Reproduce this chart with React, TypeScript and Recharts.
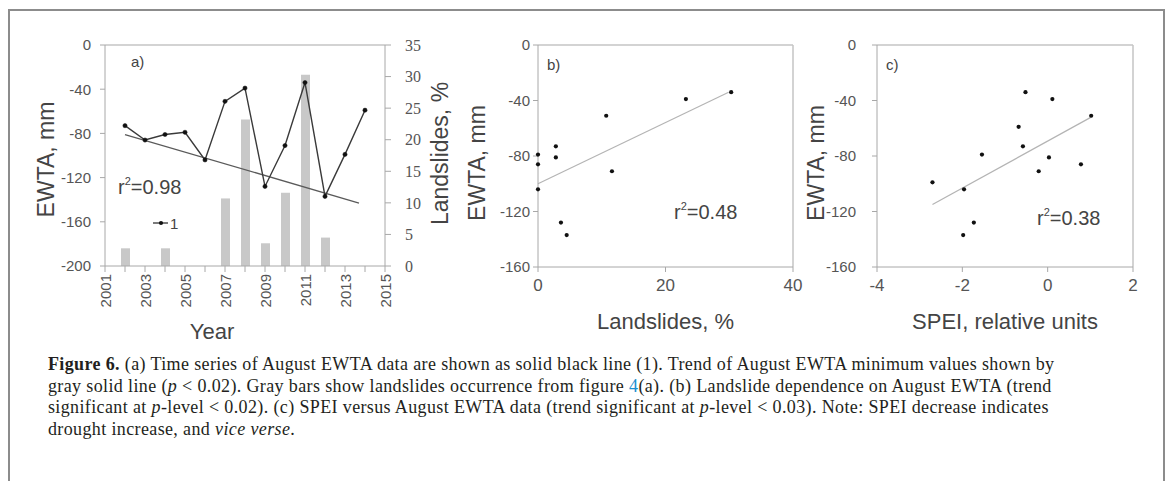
import React from "react";
import {
  Bar,
  ComposedChart,
  Label,
  Line,
  ReferenceLine,
  Scatter,
  ScatterChart,
  XAxis,
  YAxis,
} from "recharts";

// August EWTA, landslides and SPEI by year
const YEARS = [2002, 2003, 2004, 2005, 2006, 2007, 2008, 2009, 2010, 2011, 2012, 2013, 2014];
const EWTA = [-73, -86, -81, -79, -104, -51, -39, -128, -91, -34, -137, -99, -59];
const LANDSLIDES = [2.8, 0, 2.8, 0, 0, 10.7, 23.2, 3.6, 11.6, 30.3, 4.5, null, null];
const SPEI = [-0.58, 0.78, 0.03, -1.54, -1.96, 1.02, 0.11, -1.73, -0.21, -0.52, -1.98, -2.7, -0.68];

const YEAR_TICKS = [2001, 2002, 2003, 2004, 2005, 2006, 2007, 2008, 2009, 2010, 2011, 2012, 2013, 2014, 2015];
const EWTA_TICKS_A = [-200, -160, -120, -80, -40, 0];
const LANDSLIDE_TICKS_A = [0, 5, 10, 15, 20, 25, 30, 35];
const EWTA_TICKS_BC = [-160, -120, -80, -40, 0];
const PCT_TICKS = [0, 20, 40];
const SPEI_TICKS = [-4, -2, 0, 2];

// trend line end points
const TREND_A = [{ x: 2002, y: -81 }, { x: 2013.7, y: -143 }];
const TREND_B = [{ x: 0, y: -100 }, { x: 29.9, y: -34 }];
const TREND_C = [{ x: -2.7, y: -115 }, { x: 1.02, y: -52 }];

const seriesA = YEARS.map((year, i) => ({ year, ewta: EWTA[i], landslides: LANDSLIDES[i] }));
const pointsB = YEARS.map((_, i) => ({ x: LANDSLIDES[i], y: EWTA[i] })).filter((p) => p.x !== null);
const pointsC = YEARS.map((_, i) => ({ x: SPEI[i], y: EWTA[i] }));

const SANS = '"Liberation Sans", Arial, sans-serif';
const SERIF = '"Liberation Serif", "Times New Roman", serif';
const AXIS = "#a8a8a8";
const FRAME = "#c4c4c4";
const TICK_TEXT = "#555";
const TITLE = "#444";

const tickStyle = { fontFamily: SANS, fontSize: 15, fill: TICK_TEXT };

function sideTitle(text: string, offsetX: number, offsetY = 0) {
  return (props: any) => {
    const vb = props.viewBox || { x: 0, y: 0, width: 0, height: 0 };
    const cx = vb.x + offsetX;
    const cy = vb.y + vb.height / 2 + offsetY;
    return (
      <text
        x={cx}
        y={cy}
        transform={`rotate(-90 ${cx} ${cy})`}
        textAnchor="middle"
        dominantBaseline="central"
        fontFamily={SANS}
        fontSize={23}
        fill={TITLE}
      >
        {text}
      </text>
    );
  };
}

function bottomTitle(text: string, offsetX: number, baseline: number) {
  return (props: any) => {
    const vb = props.viewBox || { x: 0, y: 0, width: 0, height: 0 };
    return (
      <text
        x={vb.x + vb.width / 2 + offsetX}
        y={vb.y + baseline}
        textAnchor="middle"
        fontFamily={SANS}
        fontSize={22}
        fill={TITLE}
      >
        {text}
      </text>
    );
  };
}

const YearTick = (props: any) => {
  const { x, y, payload } = props;
  if (payload.value % 2 === 0) return <g />;
  return (
    <text
      x={x}
      y={y}
      transform={`rotate(-90 ${x} ${y})`}
      textAnchor="end"
      dominantBaseline="central"
      fontFamily={SANS}
      fontSize={15}
      fill={TICK_TEXT}
    >
      {payload.value}
    </text>
  );
};

const Dot = (props: any) => <circle cx={props.cx} cy={props.cy} r={2.1} fill="#111" />;

function PanelA() {
  return (
    <ComposedChart width={470} height={345} data={seriesA} margin={{ top: 45, right: 0, bottom: 0, left: 0 }}>
      <XAxis
        dataKey="year"
        type="number"
        domain={[2001, 2015]}
        ticks={YEAR_TICKS}
        interval={0}
        height={79}
        stroke={AXIS}
        tickSize={6}
        tickMargin={2}
        tick={<YearTick />}
      >
        <Label content={bottomTitle("Year", -33, 73)} />
      </XAxis>
      <YAxis
        yAxisId="ewta"
        type="number"
        domain={[-200, 0]}
        ticks={EWTA_TICKS_A}
        interval={0}
        width={105}
        stroke={AXIS}
        tickSize={5}
        tickMargin={9}
        tick={tickStyle}
      >
        <Label content={sideTitle("EWTA, mm", 46, 4)} />
      </YAxis>
      <YAxis
        yAxisId="ls"
        orientation="right"
        type="number"
        domain={[0, 35]}
        ticks={LANDSLIDE_TICKS_A}
        interval={0}
        width={85}
        stroke={AXIS}
        tickSize={6}
        tickMargin={14}
        tick={{ fontFamily: SERIF, fontSize: 16, fill: TICK_TEXT }}
      >
        <Label content={sideTitle("Landslides, %", 55, -2)} />
      </YAxis>
      <ReferenceLine yAxisId="ewta" y={0} stroke={FRAME} strokeWidth={1.5} />
      <Bar yAxisId="ls" dataKey="landslides" fill="#c8c8c8" barSize={9} isAnimationActive={false} />
      <ReferenceLine yAxisId="ewta" segment={TREND_A} stroke="#5a5a5a" strokeWidth={1.3} ifOverflow="visible" />
      <Line
        yAxisId="ewta"
        dataKey="ewta"
        stroke="#3a3a3a"
        strokeWidth={1.4}
        dot={{ r: 2.1, fill: "#111", stroke: "#111", strokeWidth: 0.5 }}
        isAnimationActive={false}
      />
    </ComposedChart>
  );
}

function ScatterPanel(props: {
  data: { x: number | null; y: number }[];
  xDomain: [number, number];
  xTicks: number[];
  trend: { x: number; y: number }[];
  xTitle: string;
  yAxisWidth: number;
  yTickMargin: number;
  rightMargin: number;
  width: number;
}) {
  const { data, xDomain, xTicks, trend, xTitle, yAxisWidth, yTickMargin, rightMargin, width } = props;
  return (
    <ScatterChart width={width} height={345} margin={{ top: 45, right: rightMargin, bottom: 0, left: 0 }}>
      <XAxis
        dataKey="x"
        type="number"
        domain={xDomain}
        ticks={xTicks}
        interval={0}
        height={78}
        stroke={AXIS}
        tickSize={5}
        tickMargin={7}
        tick={{ fontFamily: SANS, fontSize: 17, fill: TICK_TEXT }}
      >
        <Label content={bottomTitle(xTitle, 0, 62)} />
      </XAxis>
      <YAxis
        dataKey="y"
        type="number"
        domain={[-160, 0]}
        ticks={EWTA_TICKS_BC}
        interval={0}
        width={yAxisWidth}
        stroke={AXIS}
        tickSize={5}
        tickMargin={yTickMargin}
        tick={tickStyle}
      >
        <Label content={sideTitle("EWTA, mm", yAxisWidth - 61, 7)} />
      </YAxis>
      <ReferenceLine y={0} stroke={FRAME} strokeWidth={1.5} />
      <ReferenceLine x={xDomain[1]} stroke={FRAME} strokeWidth={1.5} />
      <ReferenceLine segment={trend} stroke="#b4b4b4" strokeWidth={1.2} ifOverflow="visible" />
      <Scatter data={data} shape={<Dot />} isAnimationActive={false} />
    </ScatterChart>
  );
}

export default function App() {
  return (
    <div style={{ position: "absolute", left: 0, top: 0, width: 1168, height: 481, background: "#fff", overflow: "hidden" }}>
      <div
        style={{
          position: "absolute",
          left: 8,
          top: 9,
          width: 1153,
          height: 480,
          borderLeft: "2px solid #8c8c8c",
          borderTop: "2px solid #8c8c8c",
          borderRight: "2px solid #8c8c8c",
        }}
      />
      <div style={{ position: "absolute", left: 0, top: 0 }}>
        <PanelA />
      </div>
      <div style={{ position: "absolute", left: 460, top: 0 }}>
        <ScatterPanel
          data={pointsB}
          xDomain={[0, 40]}
          xTicks={PCT_TICKS}
          trend={TREND_B}
          xTitle="Landslides, %"
          yAxisWidth={78}
          yTickMargin={3}
          rightMargin={27}
          width={360}
        />
      </div>
      <div style={{ position: "absolute", left: 800, top: 0 }}>
        <ScatterPanel
          data={pointsC}
          xDomain={[-4, 2]}
          xTicks={SPEI_TICKS}
          trend={TREND_C}
          xTitle="SPEI, relative units"
          yAxisWidth={77}
          yTickMargin={16}
          rightMargin={35}
          width={368}
        />
      </div>

      <svg width={1168} height={481} style={{ position: "absolute", left: 0, top: 0, pointerEvents: "none" }}>
        <g fontFamily={SANS} fill={TITLE}>
          <text x={131} y={67} fontSize={15}>a)</text>
          <text x={118} y={194} fontSize={20}>
            r<tspan fontSize={11} dy={-9}>2</tspan>
            <tspan dy={9}>=0.98</tspan>
          </text>
          <line x1={153} y1={223} x2={168} y2={223} stroke="#333" strokeWidth={1.3} />
          <circle cx={161} cy={223} r={2.1} fill="#111" />
          <text x={170} y={228.5} fontSize={15}>1</text>

          <text x={547} y={70} fontSize={15}>b)</text>
          <text x={674} y={219} fontSize={20}>
            r<tspan fontSize={11} dy={-9}>2</tspan>
            <tspan dy={9}>=0.48</tspan>
          </text>

          <text x={886} y={70} fontSize={15}>c)</text>
          <text x={1037} y={225} fontSize={20}>
            r<tspan fontSize={11} dy={-9}>2</tspan>
            <tspan dy={9}>=0.38</tspan>
          </text>
        </g>
      </svg>

      <div
        style={{
          position: "absolute",
          left: 48,
          top: 354,
          fontFamily: SERIF,
          fontSize: 18,
          letterSpacing: "0.37px",
          lineHeight: "21.7px",
          color: "#231f20",
          whiteSpace: "nowrap",
        }}
      >
        <div>
          <b>Figure 6.</b> (a) Time series of August EWTA data are shown as solid black line (1). Trend of August EWTA minimum values shown by
        </div>
        <div>
          gray solid line (<i>p</i> &lt; 0.02). Gray bars show landslides occurrence from figure{" "}
          <span style={{ color: "#1a8fd0" }}>4</span>(a). (b) Landslide dependence on August EWTA (trend
        </div>
        <div>
          significant at <i>p</i>-level &lt; 0.02). (c) SPEI versus August EWTA data (trend significant at <i>p</i>-level &lt; 0.03). Note: SPEI decrease indicates
        </div>
        <div>
          drought increase, and <i>vice verse</i>.
        </div>
      </div>
    </div>
  );
}
